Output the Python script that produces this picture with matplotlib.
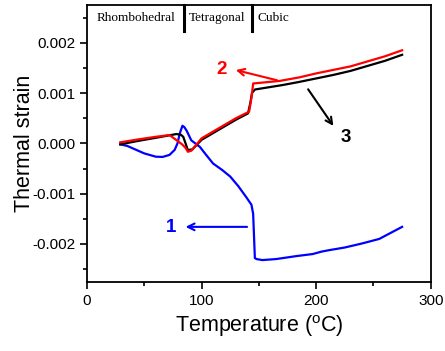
import matplotlib
matplotlib.use("Agg")
import matplotlib.pyplot as plt

plt.rcParams['font.family'] = ['Liberation Sans', 'DejaVu Sans']
plt.rcParams['mathtext.fontset'] = 'custom'
plt.rcParams['mathtext.rm'] = 'Liberation Sans'

# Curve 2 (red)
red_x = [29, 45, 60, 72, 78, 83, 86, 88, 91, 100, 115, 130, 141.5, 143.5, 145, 168, 185, 200, 215, 230, 245, 260, 275]
red_y = [0.00002, 0.00008, 0.00013, 0.000165, 0.000065, -0.00002, -0.00009, -0.000167, -0.000147, 0.0001, 0.0003, 0.0005, 0.00063, 0.0009, 0.00119, 0.00124, 0.00131, 0.00139, 0.00146, 0.00153, 0.00163, 0.00173, 0.00185]
# Curve 3 (black)
blk_x = [29, 45, 60, 72, 78, 82, 84, 86, 88, 92, 100, 115, 130, 140.5, 142.5, 144, 146.5, 171, 185, 200, 215, 230, 245, 260, 275]
blk_y = [-0.00002, 0.00005, 0.00011, 0.00016, 0.000185, 0.00017, 0.00013, 0.0, -0.000133, -0.00012, 0.00007, 0.00027, 0.00047, 0.000595, 0.0008, 0.00100, 0.00107, 0.00116, 0.00122, 0.00129, 0.00136, 0.00144, 0.00154, 0.00164, 0.00176]
# Curve 1 (blue)
blu_x = [29, 35, 40, 50, 60, 66, 72, 76.5, 79, 81, 83.3, 85, 87, 91, 98.5, 104, 110, 118, 125, 132, 139, 143.5, 145, 146.5, 148, 153, 165, 183, 197, 205, 212, 225, 240, 255, 265, 275]
blu_y = [-0.00002, -0.00005, -0.0001, -0.0002, -0.000265, -0.00027, -0.00023, -0.00013, 0.0, 0.0002, 0.00035, 0.00032, 0.00025, 0.00006, -0.00007, -0.00023, -0.0004, -0.00053, -0.00066, -0.00085, -0.00107, -0.00122, -0.0014, -0.00228, -0.0023, -0.00232, -0.0023, -0.00224, -0.0022, -0.00215, -0.00212, -0.00207, -0.00199, -0.0019, -0.00178, -0.00166]

phase_names = ['Rhombohedral', 'Tetragonal', 'Cubic']
phase_bounds = [84.5, 143.9]

fig = plt.figure(figsize=(4.45, 3.51), dpi=100)
ax = fig.add_axes([0.1955, 0.1974, 0.968 - 0.1955, 0.9858 - 0.1974])

ax.plot(blu_x, blu_y, color='#0000ff', lw=1.6)
ax.plot(blk_x, blk_y, color='black', lw=1.6)
ax.plot(red_x, red_y, color='#ff0000', lw=1.6)

ax.set_xlim(0, 300)
ax.set_ylim(-0.00275, 0.00275)
ax.set_xticks([0, 100, 200, 300])
ax.set_xticks([50, 150, 250], minor=True)
ax.set_yticks([-0.002, -0.001, 0.0, 0.001, 0.002])
ax.set_yticks([-0.0025, -0.0015, -0.0005, 0.0005, 0.0015, 0.0025], minor=True)
ax.set_yticklabels(['-0.002', '-0.001', '0.000', '0.001', '0.002'])
ax.tick_params(which='major', direction='out', length=5, width=1.2, labelsize=11)
ax.tick_params(which='minor', direction='out', length=3, width=1.2)
for s in ax.spines.values():
    s.set_linewidth(1.3)

ax.set_xlabel(r'Temperature ($^{\rm o}$C)', fontsize=15.5, labelpad=4)
ax.set_ylabel('Thermal strain', fontsize=15.5, labelpad=-2)

for b in phase_bounds:
    ax.plot([b, b], [0.00223, 0.00275], color='black', lw=2.2, clip_on=False)
ax.text(8, 0.0025, phase_names[0], family='Liberation Serif', fontsize=9.5, va='center')
ax.text(89, 0.0025, phase_names[1], family='Liberation Serif', fontsize=9.5, va='center')
ax.text(149, 0.0025, phase_names[2], family='Liberation Serif', fontsize=9.5, va='center')

ax.annotate('', xy=(83.6, -0.00166), xytext=(142.1, -0.00166),
            arrowprops=dict(arrowstyle='->', color='#0000ff', lw=1.5, mutation_scale=12))
ax.text(73, -0.00168, '1', color='#0000ff', fontsize=13.5, fontweight='bold', ha='center', va='center')
ax.annotate('', xy=(127.5, 0.00147), xytext=(168.3, 0.00124),
            arrowprops=dict(arrowstyle='->', color='#ff0000', lw=1.5, mutation_scale=12))
ax.text(117.4, 0.00147, '2', color='#ff0000', fontsize=13.5, fontweight='bold', ha='center', va='center')
ax.annotate('', xy=(216.4, 0.0003), xytext=(191.6, 0.00112),
            arrowprops=dict(arrowstyle='->', color='black', lw=1.5, mutation_scale=12))
ax.text(226, 0.00012, '3', color='black', fontsize=13.5, fontweight='bold', ha='center', va='center')

fig.savefig('out.png', dpi=100)
